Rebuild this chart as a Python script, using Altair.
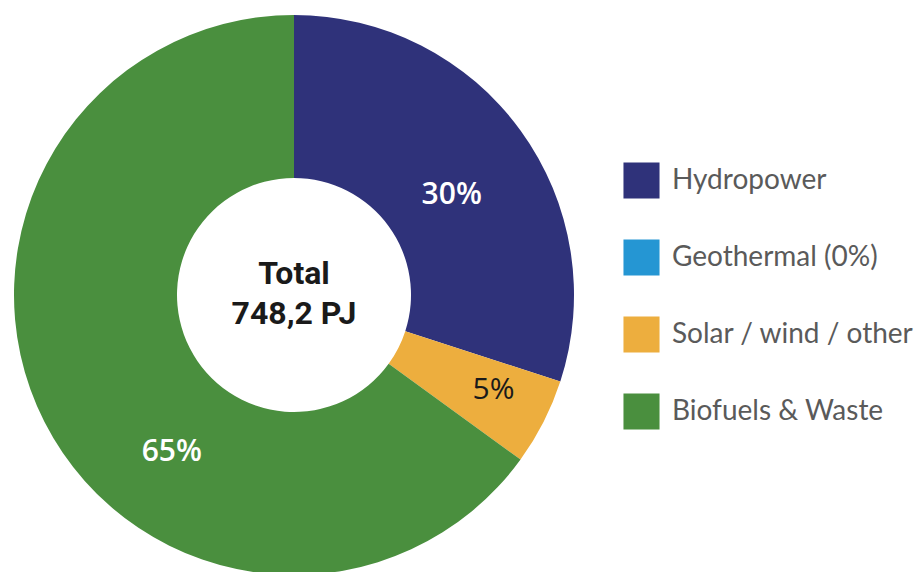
import altair as alt
import pandas as pd

categories = ["Hydropower", "Geothermal (0%)", "Solar / wind / other", "Biofuels & Waste"]
shares = [30, 0, 5, 65]
labels = ["30%", "", "5%", "65%"]
colors = ["#2f327a", "#2596d3", "#edae3e", "#4a8f3e"]
center_lines = ["Total", "748,2 PJ"]

df = pd.DataFrame({"category": categories, "share": shares, "label": labels,
                   "order": list(range(len(categories)))})

CX, CY = 294, 295
R_OUT, R_IN = 280, 117

color_scale = alt.Scale(domain=categories, range=colors)
theta_scale = alt.Scale(domain=[0, 100])

arcs = alt.Chart(df).mark_arc(outerRadius=R_OUT, innerRadius=R_IN, strokeWidth=0).encode(
    theta=alt.Theta("share:Q", stack=True, scale=theta_scale),
    order=alt.Order("order:Q"),
    x=alt.value(CX), y=alt.value(CY),
    color=alt.Color("category:N", scale=color_scale, sort=categories,
                    legend=alt.Legend(
                        title=None, orient="none", legendX=623, legendY=162,
                        symbolType="square", symbolSize=1300, symbolStrokeWidth=0,
                        symbolOpacity=1, labelFont="Lato", labelFontSize=28,
                        labelColor="#5a5a5a", labelOffset=12, rowPadding=40,
                        labelLimit=400)),
)

label_base = alt.Chart(df).transform_window(
    cum="sum(share)", sort=[alt.SortField("order")],
    frame=[None, 0]
).transform_calculate(mid="datum.cum - datum.share / 2")


def pct_label(cat, radius, color, dx=0, dy=0, weight=600):
    return label_base.transform_filter(alt.datum.category == cat).mark_text(
        radius=radius, font="Open Sans", fontSize=30, fontWeight=weight,
        color=color, dx=dx, dy=dy).encode(
        theta=alt.Theta("mid:Q", scale=theta_scale, stack=None),
        x=alt.value(CX), y=alt.value(CY), text="label:N")


lbl_h = pct_label(categories[0], 190, "white", dx=4, dy=12)
lbl_s = pct_label(categories[2], 224, "#1a1a1a", dy=-7, weight="normal")
lbl_b = pct_label(categories[3], 200, "white", dx=56, dy=66)

center_df = pd.DataFrame({"t": [center_lines]})
center = alt.Chart(center_df).mark_text(
    font="Roboto", fontSize=32, fontWeight="bold", color="#1a1a1a",
    lineHeight=40, baseline="middle").encode(
    x=alt.value(CX), y=alt.value(274), text="t")

chart = alt.layer(arcs, lbl_h, lbl_s, lbl_b, center).properties(
    width=915, height=572, padding=0, autosize="none",
    background="white").configure_view(stroke=None)

chart.save("out.html", embed_options={"renderer": "svg", "actions": False})
